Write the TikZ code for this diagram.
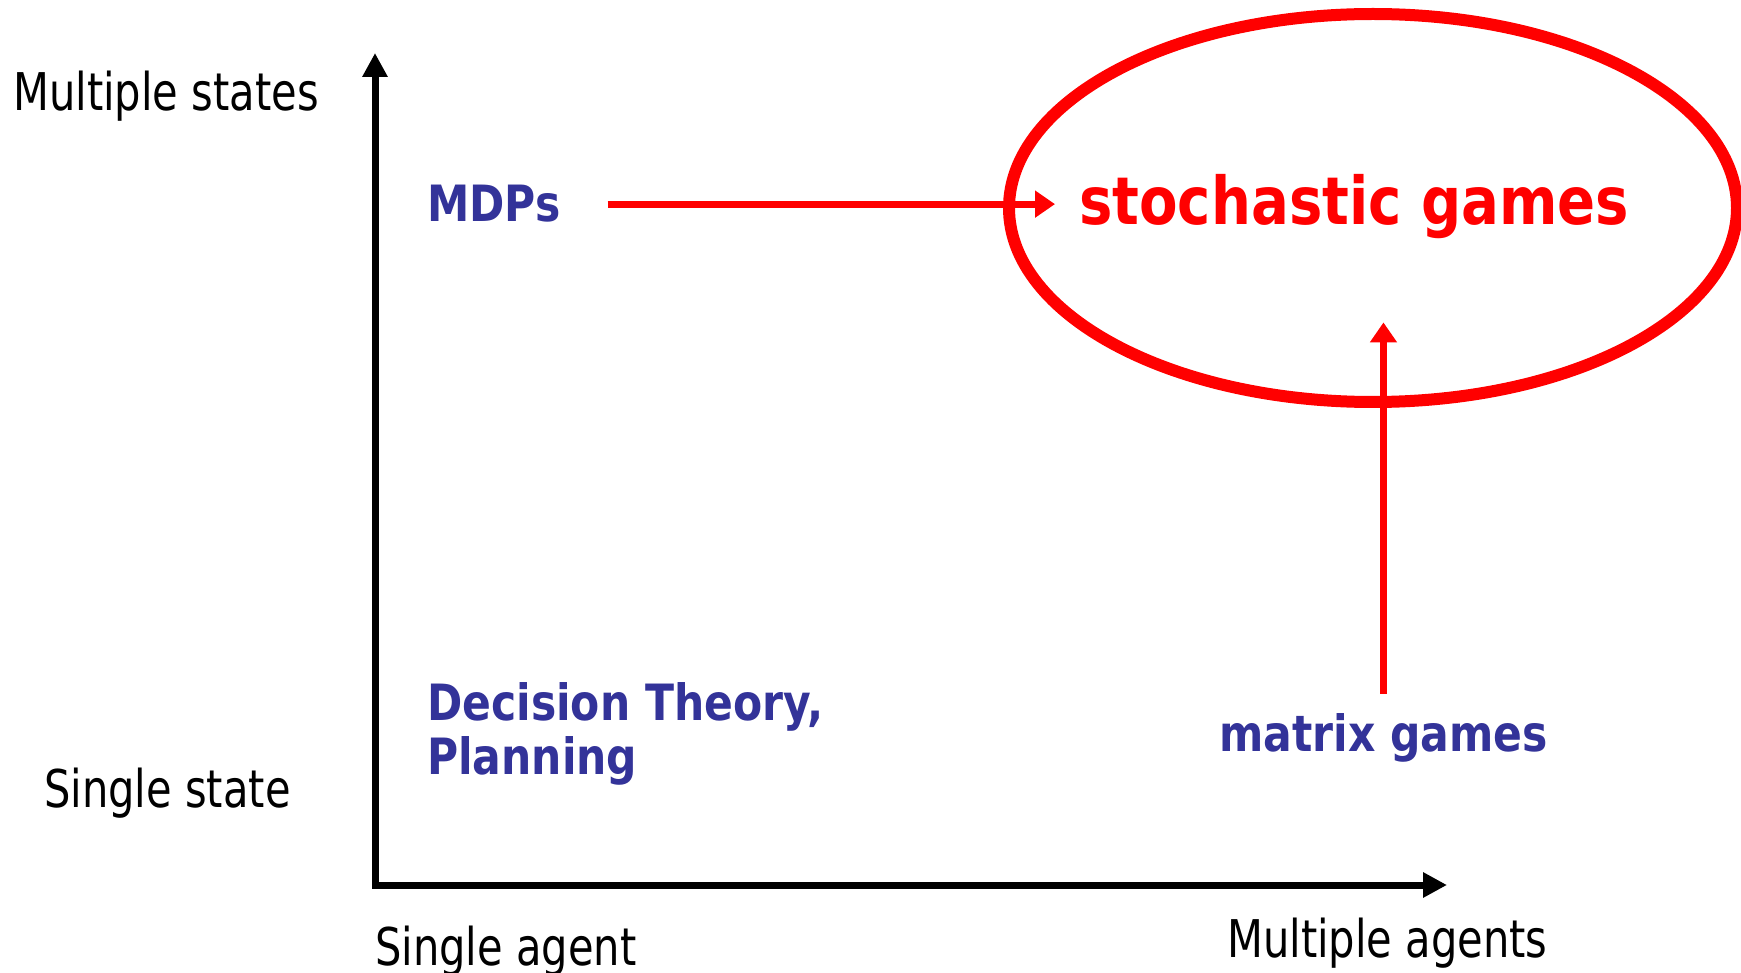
\documentclass[tikz,border=0pt]{standalone}
\usepackage{fontspec}
\setmainfont{DejaVu Sans}
\newfontfamily\axisfont[FakeStretch=0.8]{DejaVu Sans}
\newfontfamily\termfont[FakeStretch=0.85]{DejaVu Sans Bold}
\usetikzlibrary{arrows.meta, shapes.geometric}
\definecolor{cnavy}{HTML}{333399}
\definecolor{cred}{HTML}{FF0000}
\tikzset{
  every picture/.style={x=1pt, y=-1pt},
  axislabel/.style={anchor=base west, inner sep=0pt, font=\axisfont\fontsize{52}{60}\selectfont},
  term/.style={anchor=base west, inner sep=0pt, text=cnavy, align=left, font=\termfont\fontsize{50}{54}\selectfont},
  axis/.style={{Triangle[length=24pt,width=24pt]}-{Triangle[length=24pt,width=24pt]}, line width=7pt, line join=miter},
  redarrow/.style={-{Triangle[length=20pt,width=26pt]}, draw=cred, line width=7pt},
}
\begin{document}
\begin{tikzpicture}
  \useasboundingbox (0,0) rectangle (1741,973);
  % axes
  \coordinate (o) at (375,885);
  \coordinate (ytop) at (375,53);
  \coordinate (xend) at (1447,885);
  \draw[axis] (ytop) -- (o) -- (xend);
  \node[axislabel] (ms) at (13,111) {Multiple states};
  \node[axislabel] (ss) at (44,807) {Single state};
  \node[axislabel] (sa) at (375,965) {Single agent};
  \node[axislabel] (ma) at (1227,957) {Multiple agents};
  % corners
  \node[term] (mdp) at (427,222) {MDPs};
  \node[term] (dt) at (427,774) {Decision Theory,\\Planning};
  \node[term] (mg) at (1219,751) {matrix games};
  \node[term, text=cred, font=\termfont\fontsize{66}{70}\selectfont] (sg) at (1079,225) {stochastic games};
  \node[ellipse, draw=cred, line width=12pt, minimum width=728pt, minimum height=388pt] (sgring) at (1373,208) {};
  \draw[redarrow, shorten <=47pt, shorten >=24pt] (mdp.east) -- (mdp.east -| sg.west);
  \draw[redarrow, shorten <=19pt, shorten >=83pt] (mg.north) -- (mg.north |- sg.south);
\end{tikzpicture}
\end{document}
